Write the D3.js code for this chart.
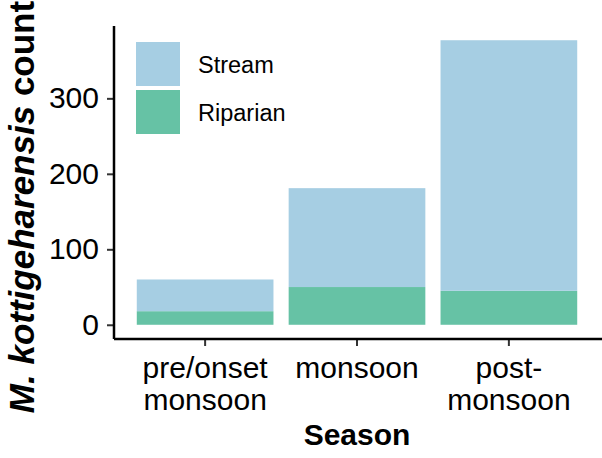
<!DOCTYPE html>
<meta charset="utf-8">
<script src="https://d3js.org/d3.v7.min.js"></script>
<style>
	body{
		margin:0;
		background:#fff;
		font-family: 'Liberation Sans', Arial, sans-serif;
	}
</style>
<div id="chart"></div>

<script>

// seasons (x categories) and counts per habitat
var seasons = ["pre/onset monsoon", "monsoon", "post-monsoon"]
var seasonLines = [["pre/onset","monsoon"],["monsoon"],["post-","monsoon"]]
var riparian = [18, 50, 45]
var stream = [42, 131, 332]
var yTicks = [0, 100, 200, 300]
var habitats = ["Stream", "Riparian"]
var colors = {"Stream":"#a6cee3", "Riparian":"#66c2a5"}

var w = 602
var h = 458
// panel edges (note: "top" is reserved on window)
var pLeft = 114, pRight = 600, pTop = 26, pBottom = 339

var svg = d3.select("#chart").append("svg")
	.attr("width",w).attr("height",h)

var x = d3.scaleBand().domain(seasons)
	.range([pLeft,pRight])
	.paddingInner(0.1).paddingOuter(0.15)

var totals = seasons.map(function(s,i){return riparian[i]+stream[i]})
var maxTotal = d3.max(totals)
// ggplot style 5% expansion
var y = d3.scaleLinear()
	.domain([-0.05*maxTotal, 1.05*maxTotal])
	.range([pBottom, pTop])

// stacked bars: riparian at the bottom, stream on top
var rows = seasons.map(function(s,i){
	return {season:s, Riparian:riparian[i], Stream:stream[i]}
})
var stack = d3.stack().keys(["Riparian","Stream"])(rows)

svg.append("g").selectAll("g")
	.data(stack).join("g")
	.attr("fill",function(d){return colors[d.key]})
	.selectAll("rect")
	.data(function(d){return d}).join("rect")
	.attr("x",function(d){return x(d.data.season)})
	.attr("width",x.bandwidth())
	.attr("y",function(d){return y(d[1])})
	.attr("height",function(d){return y(d[0])-y(d[1])})

// y axis
var yAxis = svg.append("g")
	.attr("transform","translate("+pLeft+",0)")
	.call(d3.axisLeft(y).tickValues(yTicks).tickSize(7).tickPadding(8))
yAxis.select(".domain").remove()
yAxis.selectAll(".tick line").attr("stroke","#333").attr("stroke-width",2)
yAxis.selectAll(".tick text")
	.attr("font-family","'Liberation Sans', Arial, sans-serif")
	.attr("font-size","30px").attr("fill","#000")
svg.append("line")
	.attr("x1",pLeft).attr("x2",pLeft)
	.attr("y1",pTop).attr("y2",pBottom)
	.attr("stroke","#000").attr("stroke-width",2.5)

// x axis
var xAxis = svg.append("g")
	.attr("transform","translate(0,"+pBottom+")")
	.call(d3.axisBottom(x).tickSize(7).tickFormat(""))
xAxis.select(".domain").remove()
xAxis.selectAll(".tick line").attr("stroke","#333").attr("stroke-width",2)
svg.append("line")
	.attr("x1",pLeft).attr("x2",w)
	.attr("y1",pBottom).attr("y2",pBottom)
	.attr("stroke","#000").attr("stroke-width",2.5)

svg.append("g").selectAll("text")
	.data(seasons).join("text")
	.attr("x",function(d){return x(d)+x.bandwidth()/2})
	.attr("y",378)
	.attr("text-anchor","middle")
	.attr("font-size","30px")
	.each(function(d,i){
		var t = d3.select(this)
		seasonLines[i].forEach(function(line,j){
			t.append("tspan").attr("x",x(d)+x.bandwidth()/2)
				.attr("dy",j==0?0:32).text(line)
		})
	})

// axis titles
svg.append("text")
	.attr("x",(pLeft+pRight)/2).attr("y",445)
	.attr("text-anchor","middle")
	.attr("font-size","30px").attr("font-weight","bold")
	.text("Season")

var yTitle = svg.append("text")
	.attr("transform","translate(34,207) rotate(-90)")
	.attr("text-anchor","middle")
	.attr("font-size","35px").attr("font-weight","bold")
yTitle.append("tspan").attr("font-style","italic").text("M. kottigeharensis")
yTitle.append("tspan").text(" count")

// legend
var legend = svg.append("g")
legend.selectAll("rect")
	.data(habitats).join("rect")
	.attr("x",136).attr("y",function(d,i){return 42+i*48})
	.attr("width",44).attr("height",44)
	.attr("fill",function(d){return colors[d]})
legend.selectAll("text")
	.data(habitats).join("text")
	.attr("x",198).attr("y",function(d,i){return 73+i*48})
	.attr("font-size","23.5px")
	.text(function(d){return d})

</script>
